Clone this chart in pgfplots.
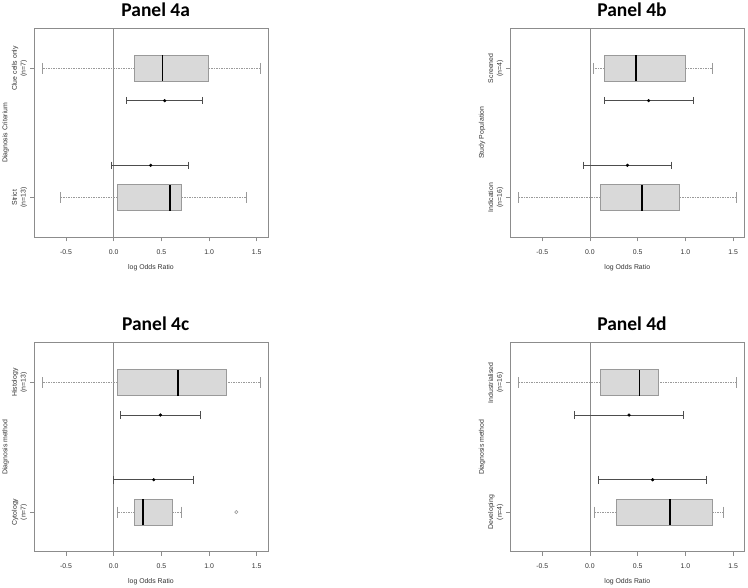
\documentclass[border=0pt]{standalone}
\usepackage{fontspec}
\setmainfont{Liberation Sans}
\newfontfamily\titlefont{Carlito}
\usepackage{pgfplots}
\pgfplotsset{compat=1.18}
\usepgfplotslibrary{statistics}
\definecolor{framegray}{HTML}{8C8C8C}
\definecolor{boxgray}{HTML}{9A9A9A}
\definecolor{boxfill}{HTML}{D9D9D9}
\definecolor{errcol}{HTML}{4D4D4D}
\definecolor{txtcol}{HTML}{333333}
\newcommand{\smallfont}{\fontsize{6.9}{8.7}\selectfont}
\pgfplotsset{
   boxplot/draw/whisker/.code 2 args={
     \draw[boxgray, line width=0.6pt, dash pattern=on 1.5pt off 1pt] (boxplot cs:#1) -- (boxplot cs:#2);
   },
}
\pgfplotsset{
 panel/.style={
   scale only axis, width=234pt, height=209pt,
   xmin=-0.835, xmax=1.618, ymin=0.694, ymax=2.309,
   axis line style={draw=framegray, line width=0.8pt},
   xtick={-0.5,0,0.5,1,1.5},
   xticklabels={-0.5,0.0,0.5,1.0,1.5},
   ytick={1,2},
   tick align=outside, tick pos=left,
   major tick length=4pt,
   tick style={draw=framegray, line width=0.6pt},
   /pgf/number format/assume math mode=true,
   ticklabel style={font=\smallfont, text=txtcol},
   xticklabel style={yshift=-4.5pt},
   yticklabel style={rotate=90, anchor=center, align=center, yshift=10.5pt},
   every axis x label/.style={at={(axis description cs:0.5,0)}, anchor=center, yshift=-30.4pt, font=\smallfont, text=txtcol},
   every axis y label/.style={at={(axis description cs:-0.1209,0.5)}, anchor=center, rotate=90, font=\smallfont, text=txtcol},
   xlabel={log Odds Ratio},
   title style={font=\titlefont\bfseries\fontsize{19.5}{22}\selectfont, at={(axis description cs:0.52,1)}, anchor=center, yshift=13pt},
   boxplot/draw direction=x,
   boxplot/box extend=0.2,
   boxplot/every box/.style={draw=boxgray, fill=boxfill, line width=0.8pt},
   boxplot/every median/.style={draw=black, line width=1.6pt},
 },
 caps/.style={only marks, mark=|, mark size=5.5pt, mark options={draw=boxgray, line width=0.8pt}},
 ci/.style={draw=errcol, line width=0.8pt, mark=|, mark size=3.8pt, mark options={draw=errcol, line width=0.9pt}},
 dots/.style={only marks, mark=*, mark size=1.4pt, mark options={draw=black, fill=black}},
 zeroline/.style={draw=framegray, line width=0.6pt},
}
\begin{document}
\begin{tikzpicture}
\path[use as bounding box] (0,0) rectangle (748pt,588pt);

% Panel 4a
\begin{axis}[panel, at={(34pt,350.7pt)}, anchor=south west,
  title={Panel 4a}, ylabel={Diagnosis Criterium},
  yticklabels={{Strict\\(n=13)},{Clue cells only\\(n=7)}}]
\addplot[zeroline] coordinates {(0,0.694) (0,2.309)};
\addplot[boxplot prepared={lower whisker=-0.56, lower quartile=0.04, median=0.59, upper quartile=0.714, upper whisker=1.388, draw position=1}] coordinates {};
\addplot[boxplot prepared={lower whisker=-0.75, lower quartile=0.219, median=0.51, upper quartile=0.998, upper whisker=1.535, draw position=2}] coordinates {};
\addplot[caps] coordinates {(-0.56,1) (1.388,1) (-0.75,2) (1.535,2)};
\addplot[ci] coordinates {(-0.019,1.25) (0.784,1.25)};
\addplot[ci] coordinates {(0.135,1.75) (0.935,1.75)};
\addplot[dots] coordinates {(0.388,1.25) (0.535,1.75)};
\end{axis}

% Panel 4b
\begin{axis}[panel, at={(510.3pt,350.7pt)}, anchor=south west,
  title={Panel 4b}, ylabel={Study Population},
  yticklabels={{Indication\\(n=16)},{Screened\\(n=4)}}]
\addplot[zeroline] coordinates {(0,0.694) (0,2.309)};
\addplot[boxplot prepared={lower whisker=-0.747, lower quartile=0.109, median=0.547, upper quartile=0.94, upper whisker=1.533, draw position=1}] coordinates {};
\addplot[boxplot prepared={lower whisker=0.035, lower quartile=0.15, median=0.48, upper quartile=1.0, upper whisker=1.288, draw position=2}] coordinates {};
\addplot[caps] coordinates {(-0.747,1) (1.533,1) (0.035,2) (1.288,2)};
\addplot[ci] coordinates {(-0.073,1.25) (0.853,1.25)};
\addplot[ci] coordinates {(0.15,1.75) (1.08,1.75)};
\addplot[dots] coordinates {(0.393,1.25) (0.615,1.75)};
\end{axis}

% Panel 4c
\begin{axis}[panel, at={(34pt,36.3pt)}, anchor=south west,
  title={Panel 4c}, ylabel={Diagnosis method},
  yticklabels={{Cytology\\(n=7)},{Histology\\(n=13)}}]
\addplot[zeroline] coordinates {(0,0.694) (0,2.309)};
\addplot[boxplot prepared={lower whisker=0.04, lower quartile=0.219, median=0.31, upper quartile=0.612, upper whisker=0.714, draw position=1}] coordinates {};
\addplot[only marks, mark=o, mark size=1.6pt, mark options={draw=boxgray, line width=0.6pt}] coordinates {(1.286,1)};
\addplot[boxplot prepared={lower whisker=-0.75, lower quartile=0.04, median=0.672, upper quartile=1.177, upper whisker=1.535, draw position=2}] coordinates {};
\addplot[caps] coordinates {(0.04,1) (0.714,1) (-0.75,2) (1.535,2)};
\addplot[ci] coordinates {(0.0,1.25) (0.84,1.25)};
\addplot[ci] coordinates {(0.068,1.75) (0.91,1.75)};
\addplot[dots] coordinates {(0.42,1.25) (0.49,1.75)};
\end{axis}

% Panel 4d
\begin{axis}[panel, at={(510.3pt,36.3pt)}, anchor=south west,
  title={Panel 4d}, ylabel={Diagnosis method},
  yticklabels={{Developing\\(n=4)},{Industrialised\\(n=16)}}]
\addplot[zeroline] coordinates {(0,0.694) (0,2.309)};
\addplot[boxplot prepared={lower whisker=0.046, lower quartile=0.274, median=0.842, upper quartile=1.284, upper whisker=1.394, draw position=1}] coordinates {};
\addplot[boxplot prepared={lower whisker=-0.747, lower quartile=0.109, median=0.52, upper quartile=0.713, upper whisker=1.533, draw position=2}] coordinates {};
\addplot[caps] coordinates {(0.046,1) (1.394,1) (-0.747,2) (1.533,2)};
\addplot[ci] coordinates {(0.084,1.25) (1.221,1.25)};
\addplot[ci] coordinates {(-0.158,1.75) (0.979,1.75)};
\addplot[dots] coordinates {(0.657,1.25) (0.41,1.75)};
\end{axis}
\end{tikzpicture}
\end{document}
